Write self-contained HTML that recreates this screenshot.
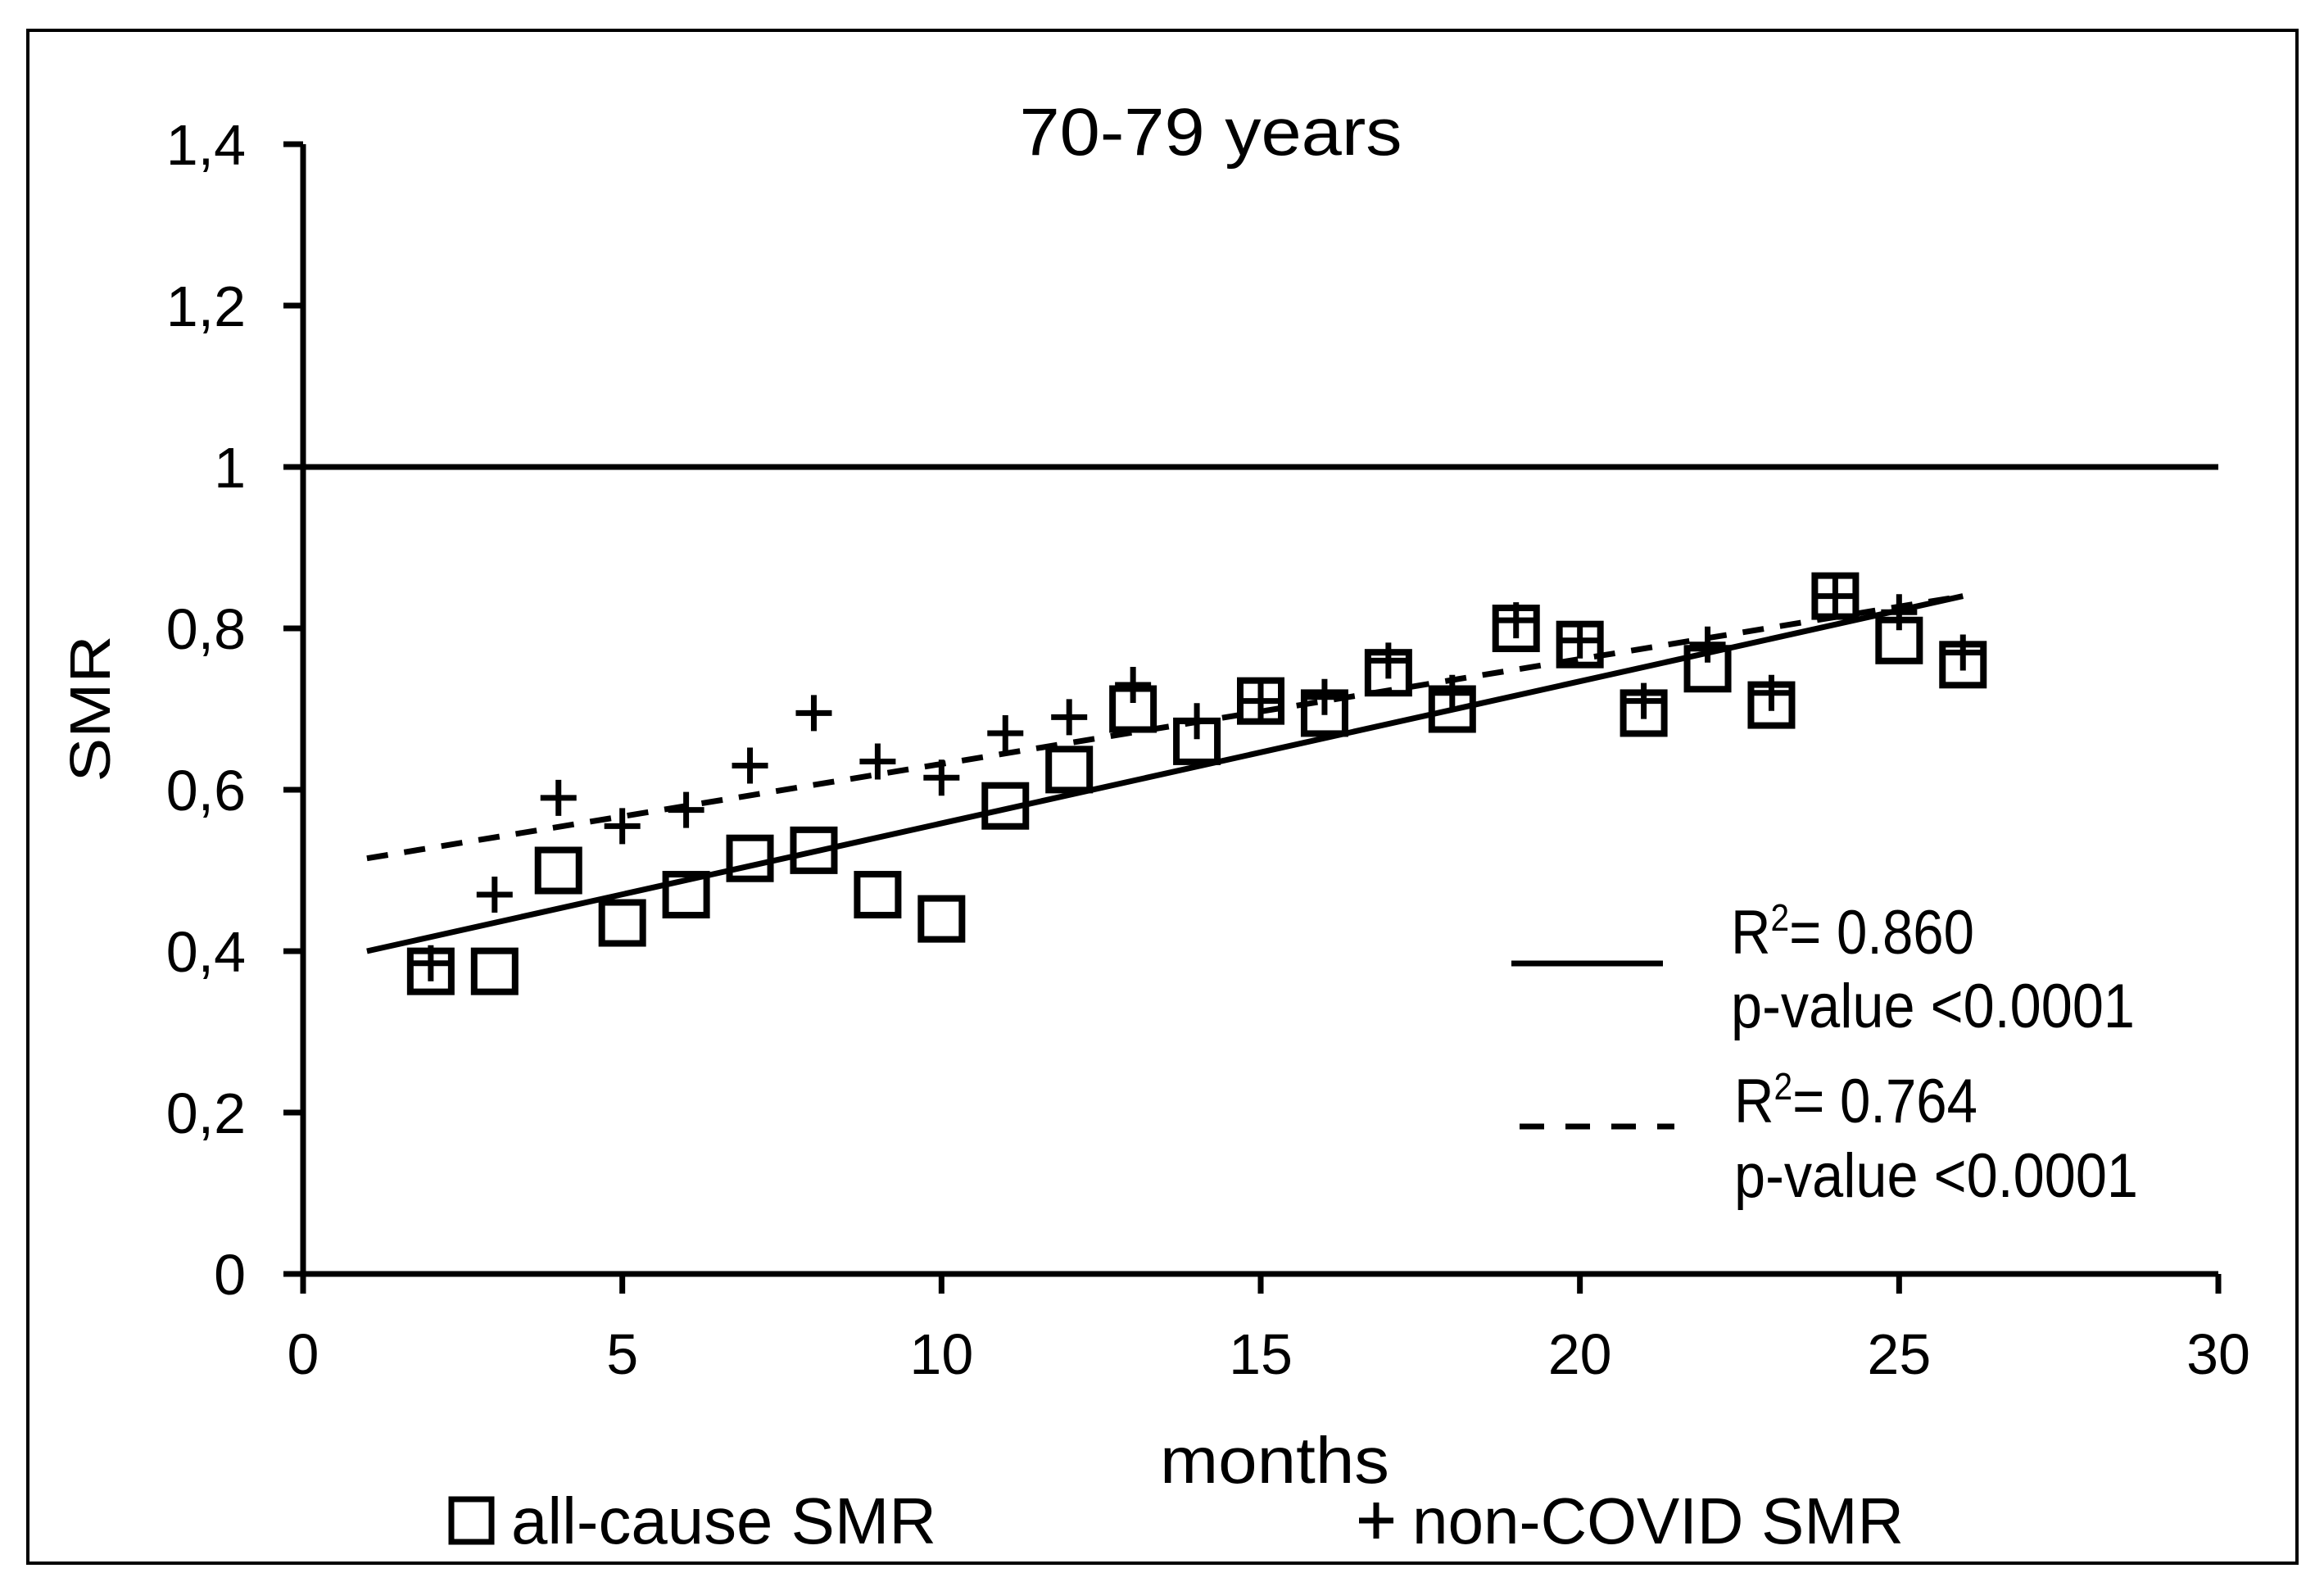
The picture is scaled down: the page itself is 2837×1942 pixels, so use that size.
<!DOCTYPE html>
<html><head><meta charset="utf-8"><style>
html,body{margin:0;padding:0;background:#fff}
svg{display:block}
text{font-family:"Liberation Sans",sans-serif;fill:#000}
</style></head><body>
<svg id="chart" width="2837" height="1942" viewBox="0 0 2837 1942" xmlns="http://www.w3.org/2000/svg">
<rect x="34" y="37" width="2770" height="1871" fill="#fff" stroke="#000" stroke-width="4"/>
<text x="1478" y="189" font-size="82" text-anchor="middle" textLength="467" lengthAdjust="spacingAndGlyphs">70-79 years</text>
<text transform="translate(134,865) rotate(-90)" font-size="70" text-anchor="middle" textLength="179" lengthAdjust="spacingAndGlyphs">SMR</text>
<text x="1556" y="1810" font-size="80" text-anchor="middle" textLength="280" lengthAdjust="spacingAndGlyphs">months</text>
<g id="axes"></g>
<g id="marks"></g>
<g>
<line x1="1845" y1="1176" x2="2030" y2="1176" stroke="#000" stroke-width="7"/>
<text x="2113" y="1164" font-size="76" textLength="297" lengthAdjust="spacingAndGlyphs">R<tspan font-size="46" dy="-28">2</tspan><tspan dy="28">= 0.860</tspan></text>
<text x="2113" y="1254" font-size="76" textLength="493" lengthAdjust="spacingAndGlyphs">p-value &lt;0.0001</text>
<line x1="1855" y1="1375" x2="2044" y2="1375" stroke="#000" stroke-width="7" stroke-dasharray="30,26"/>
<text x="2117" y="1370" font-size="76" textLength="297" lengthAdjust="spacingAndGlyphs">R<tspan font-size="46" dy="-28">2</tspan><tspan dy="28">= 0.764</tspan></text>
<text x="2117" y="1461" font-size="76" textLength="493" lengthAdjust="spacingAndGlyphs">p-value &lt;0.0001</text>
</g>
<g>
<rect x="551" y="1830" width="49" height="52" fill="none" stroke="#000" stroke-width="7"/>
<text x="624" y="1884" font-size="80" textLength="519" lengthAdjust="spacingAndGlyphs">all-cause SMR</text>
<path d="M1659,1856H1701M1680,1834V1878" stroke="#000" stroke-width="7" fill="none"/>
<text x="1724" y="1884" font-size="80" textLength="600" lengthAdjust="spacingAndGlyphs">non-COVID SMR</text>
</g>
</svg>
<script>
const months = [2,3,4,5,6,7,8,9,10,11,12,13,14,15,16,17,18,19,20,21,22,23,24,25,26];
const allCause = [0.375,0.375,0.50,0.435,0.47,0.515,0.525,0.47,0.44,0.58,0.625,0.70,0.66,0.71,0.695,0.745,0.70,0.80,0.78,0.695,0.75,0.705,0.84,0.785,0.755];
const nonCovid = [0.385,0.47,0.59,0.555,0.575,0.63,0.695,0.635,0.615,0.67,0.69,0.73,0.685,0.71,0.715,0.76,0.72,0.81,0.785,0.71,0.78,0.72,0.84,0.82,0.77];
const fitAll = [[1,0.40],[26,0.84]];
const fitNonCovid = [[1,0.515],[26,0.84]];
const xTicks = [0,5,10,15,20,25,30];
const yTicks = [0,0.2,0.4,0.6,0.8,1,1.2,1.4];
const yTickLabels = ["0","0,2","0,4","0,6","0,8","1","1,2","1,4"];
const refLine = 1;

const X0=370, X1=2708, Y0=1555, Y1=176;
const sx = v => X0 + (v-0)/(30-0)*(X1-X0);
const sy = v => Y0 - (v-0)/(1.4-0)*(Y0-Y1);
const NS="http://www.w3.org/2000/svg";
function mk(tag, attrs, parent){const e=document.createElementNS(NS,tag);for(const k in attrs)e.setAttribute(k,attrs[k]);parent.appendChild(e);return e;}
const axes=document.getElementById('axes'), marks=document.getElementById('marks');

let e=mk('line',{x1:X0,y1:Y1,x2:X0,y2:Y0+24,stroke:'#000','stroke-width':7},axes);


e=mk('line',{x1:X0-24,y1:Y0,x2:X1,y2:Y0,stroke:'#000','stroke-width':7},axes);


yTicks.forEach((t,i)=>{
  const l=mk('line',{x1:X0-24,y1:sy(t),x2:X0,y2:sy(t),stroke:'#000','stroke-width':7},axes);
  
  
  const tx=mk('text',{x:300,y:sy(t)+25,'font-size':70,'text-anchor':'end'},axes);
  tx.textContent=yTickLabels[i];
  
  
});
xTicks.forEach(t=>{
  const l=mk('line',{x1:sx(t),y1:Y0,x2:sx(t),y2:Y0+24,stroke:'#000','stroke-width':7},axes);
  
  
  const tx=mk('text',{x:sx(t),y:1677,'font-size':70,'text-anchor':'middle'},axes);
  tx.textContent=String(t);
  
  
});
e=mk('line',{x1:X0,y1:sy(refLine),x2:X1,y2:sy(refLine),stroke:'#000','stroke-width':7},marks);


e=mk('line',{x1:sx(fitAll[0][0]),y1:sy(fitAll[0][1]),x2:sx(fitAll[1][0]),y2:sy(fitAll[1][1]),stroke:'#000','stroke-width':7},marks);


e=mk('line',{x1:sx(fitNonCovid[0][0]),y1:sy(fitNonCovid[0][1]),x2:sx(fitNonCovid[1][0]),y2:sy(fitNonCovid[1][1]),stroke:'#000','stroke-width':7,'stroke-dasharray':'26,20'},marks);


months.forEach((m,i)=>{
  const r=mk('rect',{x:sx(m)-25,y:sy(allCause[i])-25,width:50,height:50,fill:'none',stroke:'#000','stroke-width':8},marks);
  
  
});
months.forEach((m,i)=>{
  const cx=sx(m), cy=sy(nonCovid[i]);
  const p=mk('path',{d:`M${cx-22},${cy}H${cx+22}M${cx},${cy-22}V${cy+22}`,stroke:'#000','stroke-width':7,fill:'none'},marks);
  
  
});
</script>
</body></html>
